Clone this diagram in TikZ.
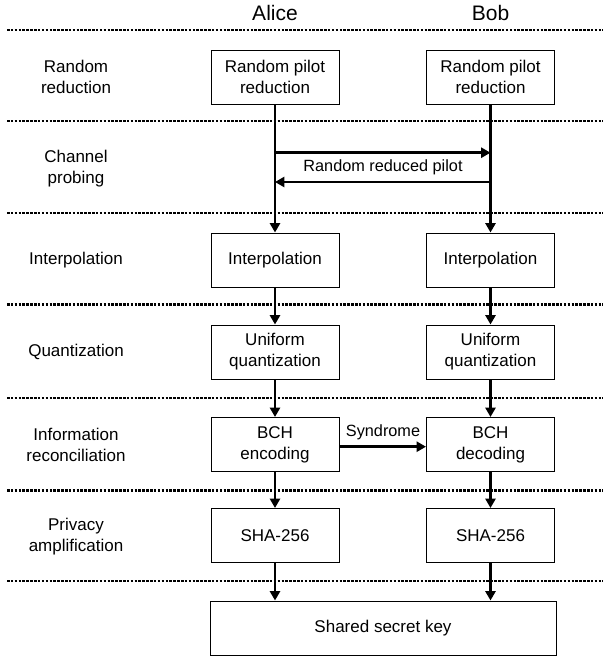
\documentclass[tikz,border=0pt]{standalone}
\usepackage{fontspec}
\setmainfont{Liberation Sans}
\usetikzlibrary{arrows.meta}
\begin{document}
\begin{tikzpicture}[x=0.75pt,y=-0.75pt,
  box/.style={draw, line width=0.75pt, minimum width=96pt, minimum height=40.5pt,
    align=center, inner sep=0pt, font=\fontsize{12.75}{15.75}\selectfont},
  lbl/.style={align=center, inner sep=0pt, font=\fontsize{12.75}{15.75}\selectfont},
  small/.style={align=center, inner sep=0pt, font=\fontsize{12.2}{14.6}\selectfont},
  head/.style={inner sep=0pt, font=\fontsize{15.75}{18}\selectfont},
  sep/.style={line width=2pt, dash pattern=on 1.9pt off 1.0pt},
  arr/.style={line width=2pt, -{Triangle[length=7pt,width=7.5pt]}}]
\useasboundingbox (0,0) rectangle (603,658);

% headers
\node[head] (alice) at (275,13) {Alice};
\node[head] (bob) at (490.5,13) {Bob};

% separators
\foreach \yy in {30,121,213,304.5,398,490.5,581}
  \draw[sep] (7,\yy) -- (603,\yy);

% left labels
\node[lbl] (l1) at (76,77) {Random\\reduction};
\node[lbl] (l2) at (76,169) {Channel\\probing};
\node[lbl] (l3) at (76,260) {Interpolation};
\node[lbl] (l4) at (76,352) {Quantization};
\node[lbl] (l5) at (76,444.5) {Information\\reconciliation};
\node[lbl] (l6) at (76,537) {Privacy\\amplification};

% boxes
\node[box] (a1) at (275,77) {Random pilot\\reduction};
\node[box] (b1) at (490.5,77) {Random pilot\\reduction};
\node[box] (a2) at (275,260) {Interpolation};
\node[box] (b2) at (490.5,260) {Interpolation};
\node[box] (a3) at (275,352) {Uniform\\quantization};
\node[box] (b3) at (490.5,352) {Uniform\\quantization};
\node[box] (a4) at (275,444.5) {BCH\\encoding};
\node[box] (b4) at (490.5,444.5) {BCH\\decoding};
\node[box] (a5) at (275,535.5) {SHA-256};
\node[box] (b5) at (490.5,535.5) {SHA-256};
\node[box, minimum width=259.5pt] (key) at (383,628) {Shared secret key};

% vertical arrows
\draw[arr] (a1) -- (a2);
\draw[arr] (b1) -- (b2);
\draw[arr] (a2) -- (a3);
\draw[arr] (b2) -- (b3);
\draw[arr] (a3) -- (a4);
\draw[arr] (b3) -- (b4);
\draw[arr] (a4) -- (a5);
\draw[arr] (b4) -- (b5);
\draw[arr] (a5) -- (a5 |- key.north);
\draw[arr] (b5) -- (b5 |- key.north);

% channel probing
\coordinate (ca1) at (275,152.7);
\coordinate (cb1) at (490.5,152.7);
\coordinate (ca2) at (275,182);
\coordinate (cb2) at (490.5,182);
\draw[arr] (ca1) -- (cb1);
\draw[arr] (cb2) -- (ca2);
\node[small] (rrp) at (383,167.5) {Random reduced pilot};

% syndrome
\draw[arr] (a4.east |- 0,446.7) -- (b4.west |- 0,446.7);
\node[small] (syn) at (383,432.5) {Syndrome};
\end{tikzpicture}
\end{document}
